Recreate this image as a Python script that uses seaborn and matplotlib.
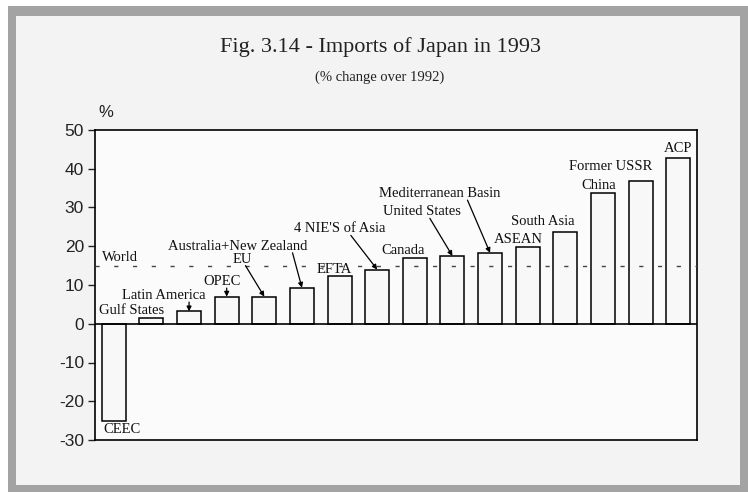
import matplotlib
matplotlib.use("Agg")
import matplotlib.pyplot as plt
from matplotlib.patches import Rectangle
import seaborn as sns
import pandas as pd

# Data
regions = ["CEEC", "Gulf States", "Latin America", "OPEC", "EU",
           "Australia+New Zealand", "EFTA", "4 NIE'S of Asia", "Canada",
           "United States", "Mediterranean Basin", "ASEAN", "South Asia",
           "China", "Former USSR", "ACP"]
change = [-25.0, 1.5, 3.2, 7.0, 7.0, 9.3, 12.3, 14.0, 17.0,
          17.5, 18.3, 19.8, 23.8, 33.7, 36.9, 42.9]
world = 15.0

df = pd.DataFrame({"region": regions, "change": change})

sns.set_style("white")
plt.rcParams["font.family"] = ["Liberation Sans", "DejaVu Sans"]
plt.rcParams["axes.unicode_minus"] = False

fig = plt.figure(figsize=(7.48, 4.92), dpi=100, facecolor="white")
W, H = 748, 492

# scanned page frame
fig.patches.append(Rectangle((8 / W, 0), 740 / W, 486 / H, transform=fig.transFigure,
                             facecolor="#a3a3a3", edgecolor="none", zorder=-3))
fig.patches.append(Rectangle((16 / W, 7 / H), 724 / W, 469 / H, transform=fig.transFigure,
                             facecolor="#f3f3f3", edgecolor="none", zorder=-2))

ax = fig.add_axes([95 / W, 1 - 440 / H, 602 / W, 310 / H])
ax.set_facecolor("#fbfbfb")

sns.barplot(data=df, x="region", y="change", order=regions, color="#f8f8f8",
            edgecolor="black", linewidth=1.1, width=0.64, saturation=1, ax=ax, zorder=2)

ax.set_xlim(-0.5, len(regions) - 0.5)
ax.set_ylim(-30, 50)
ax.set_yticks(range(-30, 51, 10))
ax.set_xticks([])
ax.set_xlabel("")
ax.set_ylabel("")
ax.tick_params(axis="y", left=True, length=5, width=1, labelsize=12.5, colors="#222222", pad=3)
for s in ax.spines.values():
    s.set_color("black")
    s.set_linewidth(1.2)

ax.axhline(0, color="black", lw=1.2, zorder=3)
ax.axhline(world, color="#444444", lw=1.0, linestyle=(0, (3, 10.5)), zorder=4)

ax.text(-0.4, 54.5, "%", fontsize=12, color="#222222", ha="left", va="center", clip_on=False)

serif = ["Liberation Serif", "DejaVu Serif"]
lab = dict(fontsize=10.5, family=serif, color="#111111", zorder=5)

# plain labels
ax.text(0.16, 17.1, "World", ha="center", va="center", **lab)
ax.text(0.47, 3.4, "Gulf States", ha="center", va="center", **lab)
ax.text(0.22, -27.4, "CEEC", ha="center", va="center", **lab)
ax.text(5.85, 14.1, "EFTA", ha="center", va="center", **lab)
ax.text(7.7, 18.9, "Canada", ha="center", va="center", **lab)
ax.text(10.76, 21.8, "ASEAN", ha="center", va="center", **lab)
ax.text(11.4, 26.4, "South Asia", ha="center", va="center", **lab)
ax.text(12.9, 35.7, "China", ha="center", va="center", **lab)
ax.text(13.2, 40.7, "Former USSR", ha="center", va="center", **lab)
ax.text(15.0, 45.1, "ACP", ha="center", va="center", **lab)

arrow = dict(arrowstyle="-|>", color="black", lw=0.9, mutation_scale=7, shrinkA=0, shrinkB=0)

# labels with arrows pointing to their bars
ax.text(1.32, 7.2, "Latin America", ha="center", va="center", **lab)
ax.annotate("", xy=(2.0, change[2]), xytext=(2.0, 5.6), arrowprops=arrow, zorder=5)

ax.text(2.88, 10.8, "OPEC", ha="center", va="center", **lab)
ax.annotate("", xy=(3.0, change[3]), xytext=(3.0, 9.2), arrowprops=arrow, zorder=5)

ax.text(3.41, 16.6, "EU", ha="center", va="center", **lab)
ax.annotate("", xy=(4.0, change[4]), xytext=(3.5, 15.0), arrowprops=arrow, zorder=5)

ax.text(3.3, 19.9, "Australia+New Zealand", ha="center", va="center", **lab)
ax.annotate("", xy=(5.0, change[5]), xytext=(4.75, 18.3), arrowprops=arrow, zorder=5)

ax.text(6.0, 24.5, "4 NIE'S of Asia", ha="center", va="center", **lab)
ax.annotate("", xy=(7.0, change[7]), xytext=(6.3, 22.8), arrowprops=arrow, zorder=5)

ax.text(8.2, 28.9, "United States", ha="center", va="center", **lab)
ax.annotate("", xy=(9.0, change[9]), xytext=(8.4, 27.2), arrowprops=arrow, zorder=5)

ax.text(8.65, 33.5, "Mediterranean Basin", ha="center", va="center", **lab)
ax.annotate("", xy=(10.0, change[10]), xytext=(9.4, 31.9), arrowprops=arrow, zorder=5)

fig.text(380 / W, 1 - 47 / H, "Fig. 3.14 - Imports of Japan in 1993", ha="center", va="center",
         fontsize=16, family=serif, color="#222222")
fig.text(380 / W, 1 - 77 / H, "(% change over 1992)", ha="center", va="center",
         fontsize=10.5, family=serif, color="#222222")

fig.savefig("out.png", dpi=100, facecolor=fig.get_facecolor())
